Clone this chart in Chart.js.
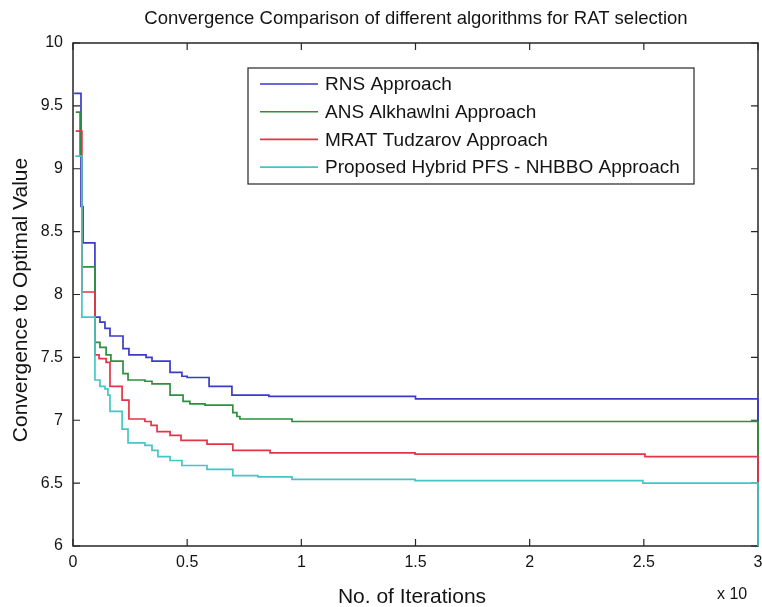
<!DOCTYPE html>
<html>
<head>
<meta charset="utf-8">
<script src="https://cdn.jsdelivr.net/npm/chart.js"></script>
<style>
  html, body { margin: 0; padding: 0; background: #fff; }
  canvas { display: block; }
</style>
</head>
<body>
<canvas id="chart" width="762" height="607"></canvas>
<script>
const chartTitle = 'Convergence Comparison of different algorithms for RAT selection';
const xLabel = 'No. of Iterations';
const yLabel = 'Convergence to Optimal Value';
const xExponent = 'x 10';

const seriesNames = [
    'RNS Approach',
    'ANS Alkhawlni Approach',
    'MRAT Tudzarov Approach',
    'Proposed Hybrid PFS - NHBBO Approach'
];
const seriesColors = ['#3a3acb', '#2f8f3f', '#e23548', '#45c6c4'];

// step points: x where value changes, new value
const rnsX = [0.005, 0.035, 0.044, 0.096, 0.118, 0.14, 0.162, 0.219, 0.245, 0.32, 0.346, 0.425, 0.477, 0.5, 0.596, 0.696, 0.858, 1.5, 3.0];
const rnsY = [9.6, 8.7, 8.41, 7.82, 7.78, 7.73, 7.67, 7.57, 7.52, 7.5, 7.47, 7.38, 7.35, 7.34, 7.27, 7.2, 7.19, 7.17, 6.99];

const ansX = [0.012, 0.031, 0.039, 0.096, 0.118, 0.145, 0.166, 0.219, 0.241, 0.315, 0.346, 0.425, 0.482, 0.512, 0.578, 0.7, 0.718, 0.731, 0.959, 3.0];
const ansY = [9.45, 9.1, 8.22, 7.62, 7.58, 7.52, 7.47, 7.37, 7.32, 7.31, 7.29, 7.2, 7.15, 7.13, 7.12, 7.06, 7.03, 7.01, 6.99, 6.71];

const mratX = [0.012, 0.039, 0.096, 0.114, 0.145, 0.162, 0.215, 0.245, 0.315, 0.342, 0.368, 0.425, 0.473, 0.587, 0.7, 0.863, 1.498, 2.505, 3.0];
const mratY = [9.3, 8.02, 7.52, 7.49, 7.46, 7.27, 7.16, 7.01, 6.99, 6.96, 6.91, 6.88, 6.84, 6.81, 6.76, 6.74, 6.73, 6.71, 6.5];

const hybridX = [0.01, 0.039, 0.096, 0.118, 0.14, 0.153, 0.162, 0.215, 0.241, 0.315, 0.346, 0.372, 0.425, 0.477, 0.587, 0.7, 0.81, 0.959, 1.498, 2.496, 3.0];
const hybridY = [9.1, 7.82, 7.32, 7.27, 7.25, 7.2, 7.07, 6.93, 6.82, 6.8, 6.76, 6.71, 6.68, 6.64, 6.61, 6.56, 6.55, 6.53, 6.52, 6.5, 6.0];

const xTicks = [0, 0.5, 1, 1.5, 2, 2.5, 3];
const yTicks = [6, 6.5, 7, 7.5, 8, 8.5, 9, 9.5, 10];

const FONT = "'Liberation Sans', Arial, sans-serif";
const INK = '#141414';

const toPoints = (xs, ys) => xs.map((x, i) => ({ x, y: ys[i] }));
const allX = [rnsX, ansX, mratX, hybridX];
const allY = [rnsY, ansY, mratY, hybridY];

const datasets = seriesNames.map((name, i) => ({
    label: name,
    data: toPoints(allX[i], allY[i]),
    borderColor: seriesColors[i],
    borderWidth: 1.7,
    pointRadius: 0,
    stepped: true,
    fill: false,
    clip: 4,
    order: 4 - i
}));

const matlabFrame = {
    id: 'matlabFrame',
    beforeDatasetsDraw(chart) {
        // axes box with inward ticks, drawn under the lines
        const { ctx, chartArea: a, scales: { x, y } } = chart;
        ctx.save();
        ctx.strokeStyle = '#262626';
        ctx.lineWidth = 1.5;
        ctx.strokeRect(a.left, a.top, a.right - a.left, a.bottom - a.top);
        ctx.lineWidth = 1.2;
        ctx.beginPath();
        const len = 7;
        xTicks.forEach(v => {
            const px = x.getPixelForValue(v);
            ctx.moveTo(px, a.bottom); ctx.lineTo(px, a.bottom - len);
            ctx.moveTo(px, a.top); ctx.lineTo(px, a.top + len);
        });
        yTicks.forEach(v => {
            const py = y.getPixelForValue(v);
            ctx.moveTo(a.left, py); ctx.lineTo(a.left + len, py);
            ctx.moveTo(a.right, py); ctx.lineTo(a.right - len, py);
        });
        ctx.stroke();
        ctx.restore();
    },
    afterDatasetsDraw(chart) {
        const { ctx } = chart;
        ctx.save();
        const lx = 248, ly = 68, lw = 446, lh = 116;
        ctx.fillStyle = '#fff';
        ctx.fillRect(lx, ly, lw, lh);
        ctx.strokeStyle = '#262626';
        ctx.lineWidth = 1.2;
        ctx.strokeRect(lx, ly, lw, lh);
        ctx.font = '19px ' + FONT;
        ctx.textBaseline = 'middle';
        ctx.textAlign = 'left';
        chart.data.datasets.forEach((ds, i) => {
            const ry = 84 + i * 27.7;
            ctx.strokeStyle = ds.borderColor;
            ctx.lineWidth = 1.6;
            ctx.beginPath();
            ctx.moveTo(260, ry); ctx.lineTo(318, ry);
            ctx.stroke();
            ctx.fillStyle = INK;
            ctx.fillText(ds.label, 325, ry + 1);
        });
        ctx.restore();
    },
    afterDraw(chart) {
        const { ctx } = chart;
        ctx.save();
        ctx.fillStyle = INK;
        ctx.textAlign = 'center';
        ctx.textBaseline = 'alphabetic';
        ctx.font = '18.5px ' + FONT;
        ctx.fillText(chartTitle, 416, 24);
        ctx.font = '21px ' + FONT;
        ctx.fillText(xLabel, 412, 603);
        ctx.font = '16px ' + FONT;
        ctx.textAlign = 'left';
        ctx.fillText(xExponent, 717, 599);
        ctx.translate(27, 300);
        ctx.rotate(-Math.PI / 2);
        ctx.textAlign = 'center';
        ctx.font = '21px ' + FONT;
        ctx.fillText(yLabel, 0, 0);
        ctx.restore();
    }
};

new Chart(document.getElementById('chart'), {
    type: 'line',
    data: { datasets },
    options: {
        responsive: false,
        animation: false,
        devicePixelRatio: 1,
        layout: { autoPadding: false, padding: { top: 43, right: 4, left: 0, bottom: 0 } },
        plugins: {
            legend: { display: false },
            tooltip: { enabled: false },
            title: { display: false }
        },
        scales: {
            x: {
                type: 'linear',
                min: 0,
                max: 3,
                afterFit: s => { s.height = 61; s.paddingLeft = 0; s.paddingRight = 0; },
                afterBuildTicks: s => { s.ticks = xTicks.map(v => ({ value: v })); },
                grid: { display: false, drawTicks: false },
                border: { display: false },
                ticks: {
                    color: INK,
                    font: { family: FONT, size: 16 },
                    padding: 7,
                    maxRotation: 0,
                    callback: v => String(v)
                }
            },
            y: {
                type: 'linear',
                min: 6,
                max: 10,
                afterFit: s => { s.width = 73; s.paddingTop = 0; s.paddingBottom = 0; },
                afterBuildTicks: s => { s.ticks = yTicks.map(v => ({ value: v })); },
                grid: { display: false, drawTicks: false },
                border: { display: false },
                ticks: {
                    color: INK,
                    font: { family: FONT, size: 16 },
                    padding: 10,
                    callback: v => String(v)
                }
            }
        }
    },
    plugins: [matlabFrame]
});
</script>
</body>
</html>
